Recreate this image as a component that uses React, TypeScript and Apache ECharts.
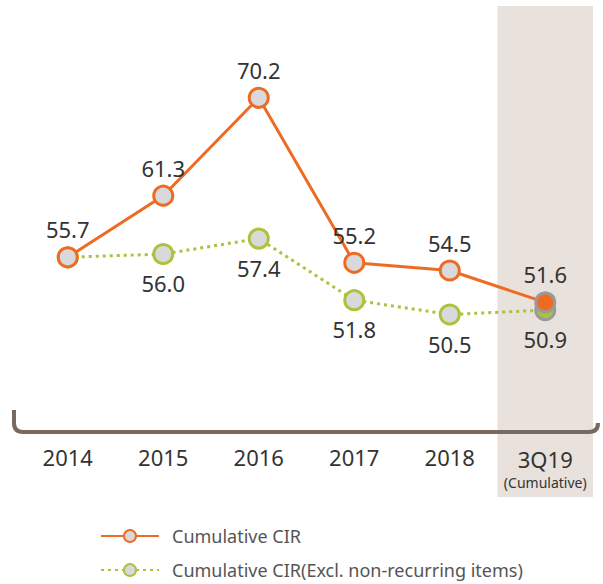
import React, { useEffect, useRef } from "react";
import * as echarts from "echarts";

const categories = ["2014", "2015", "2016", "2017", "2018", "3Q19"];
const cirValues = [55.7, 61.3, 70.2, 55.2, 54.5, 51.6];
const cirExclValues = [55.7, 56.0, 57.4, 51.8, 50.5, 50.9];
const cirExclLabels = ["", "56.0", "57.4", "51.8", "50.5", "50.9"];
const seriesNames = ["Cumulative CIR", "Cumulative CIR(Excl. non-recurring items)"];

const ORANGE = "#ee6b23";
const GREEN = "#a8c43a";
const GRAY_FILL = "#d9d9dc";
const GRAY_BORDER = "#9a9a9a";
const FONT = "'Noto Sans', 'Open Sans', sans-serif";

echarts.graphic.registerShape(
  "bracket",
  echarts.graphic.extendPath("M14 410 L14 423 Q14 432 23 432 L589 432 Q598 432 598 423", {})
);

export default function App() {
  const ref = useRef<HTMLDivElement>(null);
  useEffect(() => {
    if (!ref.current) return;
    const chart = echarts.init(ref.current, null, { renderer: "svg" });
    const lastIdx = categories.length - 1;
    chart.setOption({
      animation: false,
      grid: { left: 20, right: 10, top: 12, bottom: 154 },
      xAxis: {
        type: "category",
        data: categories,
        boundaryGap: true,
        axisLine: { show: false },
        axisTick: { show: false },
        axisLabel: {
          interval: 0,
          margin: 15,
          color: "#333",
          fontSize: 22,
          fontFamily: FONT,
          verticalAlign: "top",
          lineHeight: 24,
          formatter: (v: string) => (v === "3Q19" ? "{a|3Q19}\n{s|(Cumulative)}" : v),
          rich: {
            a: { fontSize: 22, color: "#333", fontFamily: FONT, lineHeight: 27 },
            s: { fontSize: 14, color: "#333", fontFamily: FONT, lineHeight: 20 },
          },
        },
      },
      yAxis: {
        type: "value",
        min: 40,
        max: 78,
        show: false,
        splitLine: { show: false },
      },
      legend: {
        orient: "vertical",
        left: 100,
        top: 527,
        padding: 0,
        itemWidth: 58,
        itemHeight: 15,
        itemGap: 16,
        textStyle: { fontSize: 18, color: "#555", fontFamily: FONT, padding: [0, 0, 0, 8] },
        data: seriesNames,
      },
      series: [
        {
          name: seriesNames[1],
          type: "line",
          data: cirExclValues.map((v, i) =>
            i === lastIdx
              ? { value: v, itemStyle: { color: GREEN, borderColor: GRAY_BORDER } }
              : v
          ),
          symbol: "circle",
          symbolSize: 19,
          lineStyle: { color: GREEN, width: 3, type: [3, 4] },
          itemStyle: { color: GRAY_FILL, borderColor: GREEN, borderWidth: 3 },
          label: {
            show: true,
            position: "bottom",
            distance: 7,
            fontSize: 22,
            color: "#333",
            fontFamily: FONT,
            formatter: (p: any) => cirExclLabels[p.dataIndex],
          },
          z: 2,
        },
        {
          name: seriesNames[0],
          type: "line",
          data: cirValues.map((v, i) =>
            i === lastIdx
              ? { value: v, itemStyle: { color: ORANGE, borderColor: GRAY_BORDER } }
              : v
          ),
          symbol: "circle",
          symbolSize: 19,
          lineStyle: { color: ORANGE, width: 3 },
          itemStyle: { color: GRAY_FILL, borderColor: ORANGE, borderWidth: 3 },
          label: {
            show: true,
            position: "top",
            distance: 6,
            fontSize: 22,
            color: "#333",
            fontFamily: FONT,
            formatter: (p: any) => p.value.toFixed(1),
          },
          z: 3,
        },
      ],
    });
    const c0 = chart.convertToPixel({ xAxisIndex: 0 }, categories[lastIdx]) as number;
    const c1 = chart.convertToPixel({ xAxisIndex: 0 }, categories[lastIdx - 1]) as number;
    const band = c0 - c1;
    chart.setOption({
      graphic: [
        {
          type: "rect",
          z: -10,
          silent: true,
          shape: { x: c0 - band / 2, y: 6, width: band, height: 491 },
          style: { fill: "#e8e1dc" },
        },
        {
          type: "bracket",
          x: 0,
          y: 0,
          z: 1,
          silent: true,
          style: { fill: "none", stroke: "#776b61", lineWidth: 4 },
        },
      ],
    });
    return () => chart.dispose();
  }, []);
  return (
    <div
      ref={ref}
      style={{ position: "absolute", left: 0, top: 0, width: 603, height: 584 }}
    />
  );
}
